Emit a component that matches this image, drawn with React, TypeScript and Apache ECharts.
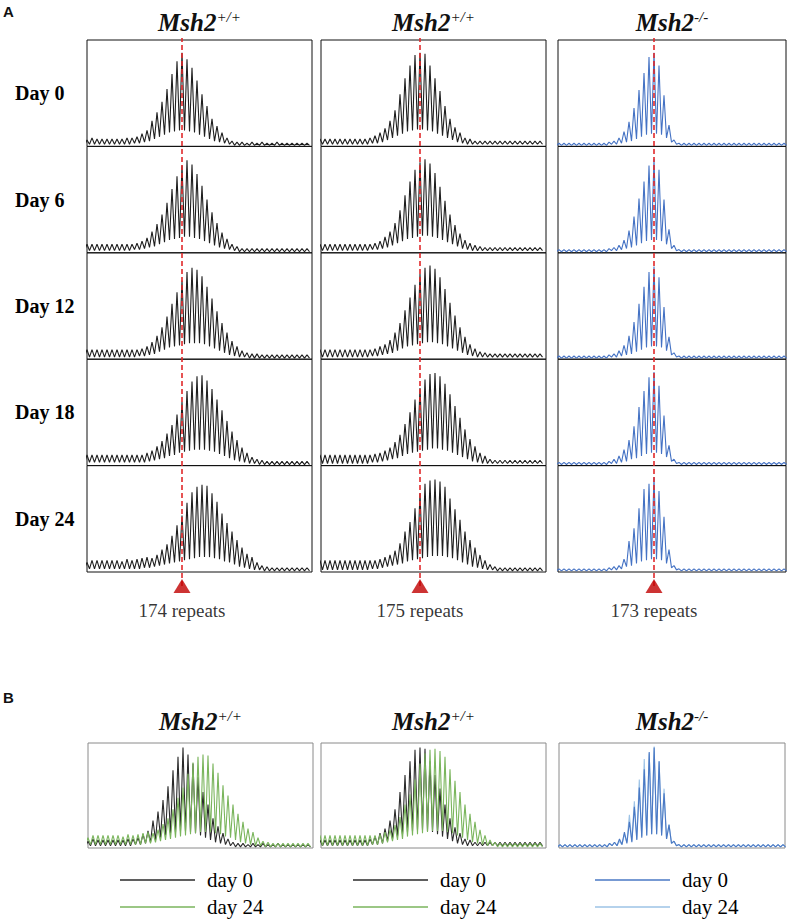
import React, { useEffect, useRef } from "react";
import * as echarts from "echarts";

// ---------- data ----------
const dayLabels = ["Day 0", "Day 6", "Day 12", "Day 18", "Day 24"];
const genotypeSup = ["+/+", "+/+", "-/-"];
const markedRepeat = [174, 175, 173];
const firstRepeat = [155, 155, 154];

// column 1 (Msh2 +/+), peak heights (%) per repeat 155..199, valleys between peaks
const c1d0P = [6,8,7,7,7,7,7,7,8,8, 9,12,15,24,32,42,54,68,80,88, 82,74,62,49,38,26,19,13,8,5, 4,4,3,4,3,4,3,3,4,3, 3,3,3,3,3];
const c1d0V = [1,2,2,2,2,2,2,2,2,2, 3,3,4,5,7,9,11,13,14,15, 15,14,13,11,9,7,5,4,3,2, 1,1,1,1,1,1,1,1,1,1, 1,1,1,1,1,1];
const c1d6P = [8,8,8,8,8,8,8,8,8,8, 9,11,14,20,27,36,47,60,72,82, 87,83,74,63,50,38,28,19,13,8, 6,4,4,4,4,4,4,4,4,4, 4,4,4,4,4];
const c1d6V = [2,2,2,2,2,2,2,2,2,2, 3,3,4,5,6,8,10,12,13,14, 15,15,14,13,11,9,7,5,4,3, 2,1,1,1,1,1,1,1,1,1, 1,1,1,1,1,1];
const c1d12P = [9,9,9,9,9,9,9,9,9,9, 9,10,12,16,22,30,40,52,63,74, 82,86,84,78,68,57,45,34,25,17, 12,8,6,5,5,4,4,4,4,4, 4,4,4,4,4];
const c1d12V = [2,2,2,2,2,2,2,2,2,2, 2,3,3,4,5,7,9,11,12,13, 14,15,15,15,14,12,10,8,6,4, 3,2,2,1,1,1,1,1,1,1, 1,1,1,1,1,1];
const c1d18P = [10,10,10,10,10,10,10,10,10,10, 10,10,12,14,18,23,30,38,48,60, 70,79,84,85,80,72,62,52,42,32, 24,17,12,8,6,5,4,4,4,4, 4,4,4,4,4];
const c1d18V = [2,3,3,3,3,3,3,3,3,3, 3,3,3,4,5,6,7,9,10,12, 13,14,15,15,15,14,13,11,9,7, 5,4,3,2,2,1,1,1,1,1, 1,1,1,1,1,1];
const c1d24P = [9,11,11,11,11,11,11,10,12,11, 12,13,14,13,16,21,26,34,44,53, 65,75,80,82,81,74,66,55,46,38, 30,23,17,14,9,6,5,4,4,4, 4,4,4,4,4];
const c1d24V = [3,3,3,3,3,3,3,3,3,3, 3,3,4,4,5,6,7,8,9,10, 11,12,13,14,14,14,13,12,10,9, 7,5,4,3,2,2,1,1,1,1, 1,1,1,1,1,1];

// column 2 (Msh2 +/+), repeats 155..199
const c2d0P = [7,7,7,7,7,7,7,7,7,7, 8,10,13,17,24,34,49,64,76,86, 88,87,76,64,52,38,26,18,13,8, 7,5,5,5,5,5,5,5,5,5, 5,5,5,5,5];
const c2d0V = [2,2,2,2,2,2,2,2,2,2, 2,3,3,4,6,8,10,12,14,15, 16,16,15,14,12,10,8,6,4,3, 2,2,2,2,2,2,2,2,2,2, 2,2,2,2,2,2];
const c2d6P = [8,8,8,8,8,8,8,8,8,8, 8,9,11,15,20,28,40,54,67,78, 85,88,84,75,62,49,36,26,18,12, 9,7,6,5,5,5,5,5,5,5, 5,5,5,5,5];
const c2d6V = [2,2,2,2,2,2,2,2,2,2, 2,3,3,4,5,7,9,11,13,14, 15,16,16,15,14,12,10,8,6,4, 3,2,2,2,2,2,2,2,2,2, 2,2,2,2,2,2];
const c2d12P = [9,9,9,9,9,9,9,9,9,9, 9,10,12,14,18,25,34,46,58,70, 80,86,88,85,77,66,53,41,30,21, 14,10,7,6,5,5,5,5,5,5, 5,5,5,5,5];
const c2d12V = [2,2,2,2,2,2,2,2,2,2, 2,3,3,4,5,6,8,10,12,13, 14,15,16,16,15,14,12,10,8,6, 4,3,2,2,2,2,2,2,2,2, 2,2,2,2,2,2];
const c2d18P = [10,10,10,10,10,10,10,10,10,10, 10,11,12,14,17,22,29,39,50,62, 73,81,86,87,84,77,67,56,45,34, 25,18,12,9,6,5,5,5,5,5, 5,5,5,5,5];
const c2d18V = [2,2,2,2,2,2,2,2,2,2, 2,3,3,4,5,6,7,9,11,12, 13,14,15,16,16,15,14,12,10,8, 6,4,3,2,2,2,2,2,2,2, 2,2,2,2,2,2];
const c2d24P = [11,11,11,11,11,11,11,11,11,11, 11,11,12,14,16,20,27,38,47,60, 74,83,86,87,85,80,69,59,49,38, 30,23,16,11,7,5,4,4,4,4, 4,4,4,4,4];
const c2d24V = [2,2,2,2,2,2,2,2,2,2, 2,3,3,4,5,6,7,8,10,11, 12,13,14,15,15,15,14,13,11,9, 7,5,4,3,2,2,1,1,1,1, 1,1,1,1,1,1];

// column 3 (Msh2 -/-), repeats 154..199
const c3d0P = [3,3,3,3,3,3,3,3,3,3, 4,5,8,14,23,36,53,69,84,88, 76,48,20,6,3,3,3,3,3,3, 3,3,3,3,3,3,3,3,3,3, 3,3,3,3,3,3];
const c3d0V = [1,1,1,1,1,1,1,1,1,1, 1,2,2,3,4,5,7,9,11,12, 12,11,8,4,2,1,1,1,1,1, 1,1,1,1,1,1,1,1,1,1, 1,1,1,1,1,1,1];
const c3d6P = [3,3,3,3,3,3,3,3,3,3, 4,5,7,12,21,34,51,67,82,88, 78,50,22,7,3,3,3,3,3,3, 3,3,3,3,3,3,3,3,3,3, 3,3,3,3,3,3];
const c3d6V = [1,1,1,1,1,1,1,1,1,1, 1,2,2,3,4,5,7,9,11,12, 12,11,8,4,2,1,1,1,1,1, 1,1,1,1,1,1,1,1,1,1, 1,1,1,1,1,1,1];
const c3d12P = [3,3,3,3,3,3,3,3,3,3, 4,5,8,13,22,35,52,68,82,87, 77,49,21,6,3,3,3,3,3,3, 3,3,3,3,3,3,3,3,3,3, 3,3,3,3,3,3];
const c3d12V = [1,1,1,1,1,1,1,1,1,1, 1,2,2,3,4,5,7,9,11,12, 12,11,8,4,2,1,1,1,1,1, 1,1,1,1,1,1,1,1,1,1, 1,1,1,1,1,1,1];
const c3d18P = [3,3,3,3,3,3,3,3,3,3, 4,6,9,15,24,37,55,70,83,88, 75,47,19,6,3,3,3,3,3,3, 3,3,3,3,3,3,3,3,3,3, 3,3,3,3,3,3];
const c3d18V = [1,1,1,1,1,1,1,1,1,1, 1,2,2,3,4,6,7,9,11,12, 12,11,8,4,2,1,1,1,1,1, 1,1,1,1,1,1,1,1,1,1, 1,1,1,1,1,1,1];
const c3d24P = [3,3,3,3,3,3,3,3,3,3, 4,5,6,12,29,41,60,78,83,89, 76,52,21,6,3,3,3,3,3,3, 3,3,3,3,3,3,3,3,3,3, 3,3,3,3,3,3];
const c3d24V = [1,1,1,1,1,1,1,1,1,1, 1,2,2,3,5,6,8,10,11,12, 12,11,8,4,2,1,1,1,1,1, 1,1,1,1,1,1,1,1,1,1, 1,1,1,1,1,1,1];

const tracesP = [
  [c1d0P, c1d6P, c1d12P, c1d18P, c1d24P],
  [c2d0P, c2d6P, c2d12P, c2d18P, c2d24P],
  [c3d0P, c3d6P, c3d12P, c3d18P, c3d24P],
];
const tracesV = [
  [c1d0V, c1d6V, c1d12V, c1d18V, c1d24V],
  [c2d0V, c2d6V, c2d12V, c2d18V, c2d24V],
  [c3d0V, c3d6V, c3d12V, c3d18V, c3d24V],
];
const legendNames = ["day 0", "day 24"];

// ---------- layout / style ----------
const SERIF = '"Liberation Serif", "Times New Roman", serif';
const colLeft = [87, 321, 558];
const colWidth = [225, 225, 228];
const xRange = [[155, 200], [155.2, 200.2], [153.8, 199.4]];
const aTop = 40;
const rowH = 106.4;
const triY = 586;
const bLeft = [88, 321, 559];
const bWidth = [225, 225, 226];
const bTop = 743;
const bH = 105;
const colorsA = ["#1e1e1e", "#1e1e1e", "#4472c4"];
const colorsB = [["#2a2a2a", "#7ab55c"], ["#2a2a2a", "#7ab55c"], ["#9dc3e6", "#4a78c4"]];
const legendColors = [["#2a2a2a", "#7ab55c"], ["#2a2a2a", "#7ab55c"], ["#4a78c4", "#9dc3e6"]];

function traceData(peaks: number[], valleys: number[], start: number) {
  const out: number[][] = [];
  for (let i = 0; i < peaks.length; i++) {
    out.push([start + i - 0.5, valleys[i]]);
    out.push([start + i, peaks[i]]);
  }
  out.push([start + peaks.length - 0.5, valleys[peaks.length]]);
  return out;
}

function buildOption() {
  const grid: any[] = [];
  const xAxis: any[] = [];
  const yAxis: any[] = [];
  const series: any[] = [];
  const graphic: any[] = [];

  const addGrid = (left: number, top: number, width: number, height: number, xr: number[], yMax: number, border: string | null) => {
    const idx = grid.length;
    grid.push({
      left, top, width, height,
      show: !!border,
      borderColor: border || "transparent",
      borderWidth: 1,
      backgroundColor: "transparent",
    });
    xAxis.push({ type: "value", gridIndex: idx, min: xr[0], max: xr[1], show: false });
    yAxis.push({ type: "value", gridIndex: idx, min: 0, max: yMax, show: false });
    return idx;
  };

  // Panel A
  for (let c = 0; c < 3; c++) {
    for (let r = 0; r < 5; r++) {
      const g = addGrid(colLeft[c], aTop + r * rowH, colWidth[c], rowH, xRange[c], 100, "#111");
      series.push({
        type: "line",
        xAxisIndex: g,
        yAxisIndex: g,
        data: traceData(tracesP[c][r], tracesV[c][r], firstRepeat[c]),
        showSymbol: false,
        symbol: "none",
        lineStyle: { color: colorsA[c], width: 1.1 },
        silent: true,
      });
    }
    // overlay for red marker line + triangle
    const og = addGrid(colLeft[c], aTop - 2, colWidth[c], triY - aTop + 2, xRange[c], 1, null);
    series.push({
      type: "line",
      xAxisIndex: og,
      yAxisIndex: og,
      data: [[markedRepeat[c], 0], [markedRepeat[c], 1]],
      symbol: "none",
      lineStyle: { color: "#e0282a", width: 1.6, type: [5, 3] },
      z: 10,
      silent: true,
    });
    series.push({
      type: "scatter",
      xAxisIndex: og,
      yAxisIndex: og,
      data: [[markedRepeat[c], 0]],
      symbol: "triangle",
      symbolSize: [17, 14],
      itemStyle: { color: "#c00000" },
      label: {
        show: true,
        position: "bottom",
        distance: 8,
        formatter: markedRepeat[c] + " repeats",
        fontFamily: SERIF,
        fontSize: 19,
        color: "#000",
      },
      z: 11,
      silent: true,
    });
  }

  // Panel B
  for (let c = 0; c < 3; c++) {
    const g = addGrid(bLeft[c], bTop, bWidth[c], bH, xRange[c], 92, "#8a8a8a");
    const order = c === 2 ? [4, 0] : [0, 4];
    order.forEach((d, k) => {
      series.push({
        type: "line",
        xAxisIndex: g,
        yAxisIndex: g,
        data: traceData(tracesP[c][d], tracesV[c][d], firstRepeat[c]),
        symbol: "none",
        lineStyle: { color: colorsB[c][k], width: 1.1 },
        silent: true,
      });
    });
    // legend
    legendNames.forEach((name, k) => {
      const ly = 880 + k * 27;
      const lx = bLeft[c] + 32 + (c === 2 ? 4 : 0);
      graphic.push({
        type: "line",
        shape: { x1: lx, y1: ly, x2: lx + 75, y2: ly },
        style: { stroke: legendColors[c][k], lineWidth: 1.6 },
      });
      graphic.push({
        type: "text",
        x: lx + 87,
        y: ly,
        style: { text: name, font: `21px ${SERIF}`, fill: "#000", verticalAlign: "middle", align: "left" },
      });
    });
  }

  // titles
  const titleRich = {
    a: { fontFamily: SERIF, fontStyle: "italic", fontWeight: "bold", fontSize: 25, fill: "#111", color: "#111" },
    b: { fontFamily: SERIF, fontStyle: "italic", fontSize: 15, verticalAlign: "top", fill: "#111", color: "#111", padding: [0, 0, 10, 0] },
  };
  for (let c = 0; c < 3; c++) {
    const cxA = colLeft[c] + colWidth[c] / 2;
    const cxB = bLeft[c] + bWidth[c] / 2;
    [[cxA, 22], [cxB, 721]].forEach(([x, y]) => {
      graphic.push({
        type: "text",
        x, y,
        style: {
          text: `{a|Msh2}{b|${genotypeSup[c]}}`,
          rich: titleRich,
          align: "center",
          verticalAlign: "middle",
        },
      });
    });
  }
  // row labels
  dayLabels.forEach((d, r) => {
    graphic.push({
      type: "text",
      x: 15,
      y: aTop + rowH * (r + 0.5),
      style: { text: d, font: `bold 20px ${SERIF}`, fill: "#000", verticalAlign: "middle", align: "left" },
    });
  });
  // panel letters
  graphic.push({ type: "text", x: 3, y: 4, style: { text: "A", font: 'bold 15px "Liberation Sans", Arial, sans-serif', fill: "#111" } });
  graphic.push({ type: "text", x: 3, y: 690, style: { text: "B", font: 'bold 15px "Liberation Sans", Arial, sans-serif', fill: "#111" } });

  return {
    animation: false,
    backgroundColor: "#ffffff",
    grid, xAxis, yAxis, series, graphic,
  };
}

export default function App() {
  const ref = useRef<HTMLDivElement>(null);
  useEffect(() => {
    if (!ref.current) return;
    const chart = echarts.init(ref.current, null, { renderer: "svg" });
    chart.setOption(buildOption() as any);
    return () => chart.dispose();
  }, []);
  return (
    <div
      ref={ref}
      style={{ position: "absolute", left: 0, top: 0, width: 787, height: 919, background: "#fff" }}
    />
  );
}
